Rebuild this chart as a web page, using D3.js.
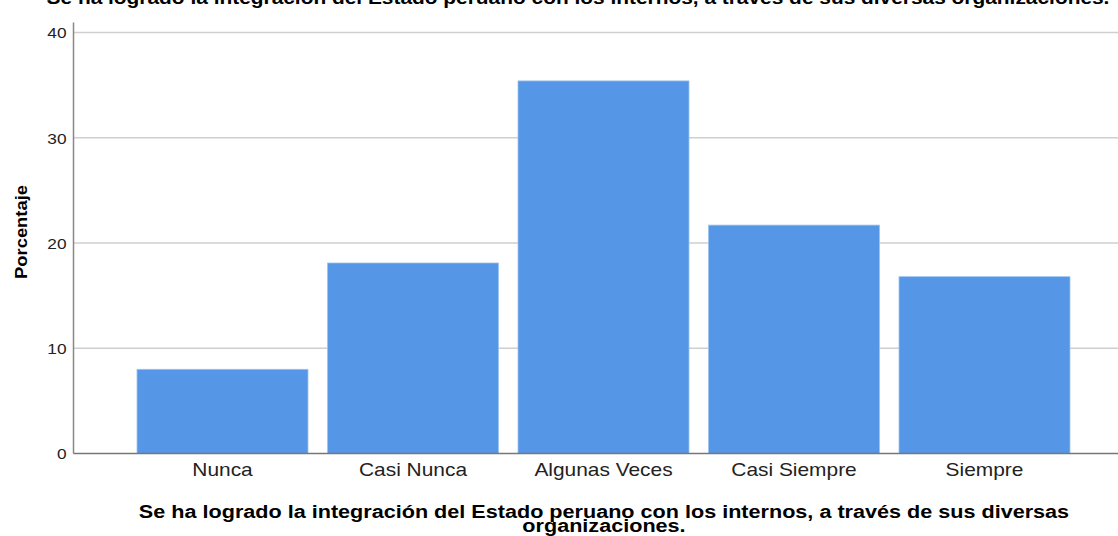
<!DOCTYPE html>
<html>
<head>
<meta charset="utf-8">
<script src="https://cdn.jsdelivr.net/npm/d3@7"></script>
<style>
  html, body { margin: 0; padding: 0; background: #fff; }
  svg { display: block; }
</style>
</head>
<body>
<svg id="chart" width="1118" height="536"></svg>
<script>
const categories = ["Nunca", "Casi Nunca", "Algunas Veces", "Casi Siempre", "Siempre"];
const percentages = [8.0, 18.1, 35.4, 21.7, 16.8];
const yTicks = [0, 10, 20, 30, 40];
const titleText = "Se ha logrado la integración del Estado peruano con los internos, a través de sus diversas organizaciones.";
const xTitleLines = ["Se ha logrado la integración del Estado peruano con los internos, a través de sus diversas", "organizaciones."];
const yTitle = "Porcentaje";

const FONT = "Liberation Sans, Arial, sans-serif";
const svg = d3.select("#chart");
const W = 1118;
const axisX = 73.5;
const y0px = 453.5, y40px = 32.5;

const y = d3.scaleLinear().domain([0, 40]).range([y0px, y40px]);
const x = d3.scaleBand().domain(categories).range([127.25, 1079.75])
  .paddingInner(0.1024).paddingOuter(0.0512);

// stretch text horizontally to mimic the wider rendering of the reference
function stretch(sel, k) {
  sel.each(function() {
    const len = this.getComputedTextLength();
    d3.select(this).attr("textLength", len * k).attr("lengthAdjust", "spacingAndGlyphs");
  });
}

// top title (clipped at top edge)
svg.append("text")
  .attr("x", 578).attr("y", 4)
  .attr("text-anchor", "middle")
  .attr("font-family", FONT)
  .attr("font-weight", "bold")
  .attr("font-size", 18)
  .attr("fill", "#000")
  .text(titleText)
  .call(stretch, 1.16);

// gridlines
svg.append("g").selectAll("line").data(yTicks.filter(d => d > 0)).join("line")
  .attr("x1", axisX).attr("x2", W)
  .attr("y1", d => y(d)).attr("y2", d => y(d))
  .attr("stroke", "#cfcfcf").attr("stroke-width", 1.3);

// bars
svg.append("g").selectAll("rect").data(categories).join("rect")
  .attr("x", d => x(d))
  .attr("width", x.bandwidth())
  .attr("y", (d, i) => y(percentages[i]))
  .attr("height", (d, i) => y(0) - y(percentages[i]))
  .attr("fill", "#5596e6")
  .attr("stroke", "#9cc3f0").attr("stroke-width", 0.8);

// y axis
const yAxis = d3.axisLeft(y).tickValues(yTicks).tickSize(0).tickPadding(7).tickFormat(d3.format("d"));
const gy = svg.append("g").attr("transform", `translate(${axisX},0)`).call(yAxis);
gy.select(".domain").attr("stroke", "#888").attr("stroke-width", 1.5)
  .attr("d", `M0,${y40px - 10}V${y0px}`);
gy.selectAll("text")
  .attr("font-family", FONT)
  .attr("font-size", 15).attr("fill", "#222").attr("dy", "0.35em")
  .call(stretch, 1.15);

// x axis
const xAxis = d3.axisBottom(x).tickSize(0).tickPadding(9);
const gx = svg.append("g").attr("transform", `translate(0,${y0px})`).call(xAxis);
gx.select(".domain").attr("stroke", "#777").attr("stroke-width", 1.3)
  .attr("d", `M${axisX},0H${W}`);
gx.selectAll("text")
  .attr("font-family", FONT)
  .attr("font-size", 19).attr("fill", "#222")
  .call(stretch, 1.1);

// y title
svg.append("text")
  .attr("transform", "translate(27,232) rotate(-90)")
  .attr("text-anchor", "middle")
  .attr("font-family", FONT)
  .attr("font-weight", "bold").attr("font-size", 17)
  .attr("fill", "#000")
  .text(yTitle)
  .call(stretch, 1.08);

// x title (two lines in one text element)
const xt = svg.append("text")
  .attr("text-anchor", "middle")
  .attr("font-family", FONT)
  .attr("font-weight", "bold").attr("font-size", 18)
  .attr("fill", "#000");
xt.selectAll("tspan").data(xTitleLines).join("tspan")
  .attr("x", 604).attr("y", (d, i) => 518 + i * 14)
  .text(d => d)
  .each(function() {
    const len = this.getComputedTextLength();
    d3.select(this).attr("textLength", len * 1.2).attr("lengthAdjust", "spacingAndGlyphs");
  });
</script>
</body>
</html>
